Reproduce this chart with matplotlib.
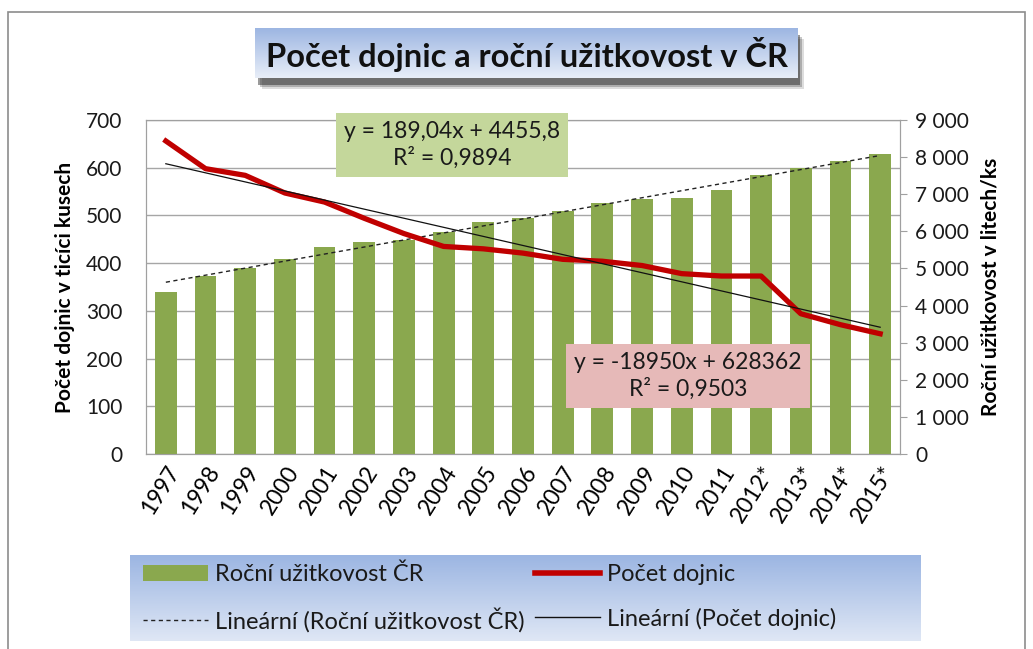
import numpy as np
import matplotlib
matplotlib.use("Agg")
import matplotlib.pyplot as plt
from matplotlib.patches import Rectangle
from matplotlib.lines import Line2D
from matplotlib.ticker import FuncFormatter

plt.rcParams['font.family'] = ['Lato', 'DejaVu Sans']

years = ['1997', '1998', '1999', '2000', '2001', '2002', '2003', '2004', '2005', '2006',
         '2007', '2008', '2009', '2010', '2011', '2012*', '2013*', '2014*', '2015*']
yield_per_cow = [4353, 4801, 5000, 5251, 5583, 5709, 5770, 5987, 6241, 6349,
                 6546, 6761, 6861, 6888, 7112, 7516, 7697, 7886, 8075]
cows_thousands = [656, 598, 584, 547, 528, 494, 462, 435, 430, 421,
                  408, 404, 395, 378, 373, 373, 294, 271, 252]
eq_yield = "y = 189,04x + 4455,8\nR² = 0,9894"
eq_cows = "y = -18950x + 628362\nR² = 0,9503"

W, H = 1033, 649
fig = plt.figure(figsize=(W / 100, H / 100), dpi=100)

def fx(px):
    return px / W

def fy(py):
    return 1 - py / H

# outer chart frame
fig.patches.append(Rectangle((fx(8), fy(700)), fx(1025) - fx(8), fy(12) - fy(700),
                             transform=fig.transFigure, fill=False, ec='#8c8c8c', lw=1.2))

left, right, top, bottom = 146, 900, 120, 454
ax = fig.add_axes([fx(left), fy(bottom), fx(right) - fx(left), fy(top) - fy(bottom)])
x = np.arange(len(years))
ax.set_xlim(-0.5, len(years) - 0.5)
ax.set_ylim(0, 700)
ax.set_yticks(np.arange(0, 701, 100))
ax.yaxis.grid(True, color='#a6a6a6', lw=1.0)
ax.set_axisbelow(True)
ax.tick_params(axis='y', length=0, labelsize=15, pad=17, labelcolor='#1a1a1a')
ax.set_xticks(x)
ax.set_xticklabels(years, rotation=58, ha='right', rotation_mode='anchor', fontsize=16.5)
ax.tick_params(axis='x', length=0, pad=6)
for s in ax.spines.values():
    s.set_color('#a0a0a0')
ax.set_ylabel('Počet dojnic v ticíci kusech', fontsize=15, fontweight='bold', labelpad=8)

ax2 = ax.twinx()
ax2.set_ylim(0, 9000)
ax2.set_yticks(np.arange(0, 9001, 1000))
ax2.yaxis.set_major_formatter(FuncFormatter(lambda v, p: f"{int(v):,}".replace(',', ' ')))
ax2.tick_params(axis='y', length=5, color='#a0a0a0', labelsize=15, pad=6, labelcolor='#1a1a1a')
for s in ax2.spines.values():
    s.set_color('#a0a0a0')
ax2.bar(x, yield_per_cow, width=0.55, color='#8aa84e', zorder=2)
c1 = np.polyfit(x, yield_per_cow, 1)
ax2.plot(x, np.polyval(c1, x), color='#222222', lw=1.0, ls=(0, (3, 2.5)), zorder=3)
ax2.set_ylabel('Roční užitkovost v litech/ks', fontsize=15, fontweight='bold', labelpad=8)

ax3 = ax.twinx()
ax3.set_ylim(0, 700)
ax3.set_yticks([])
for s in ax3.spines.values():
    s.set_visible(False)
ax3.plot(x, cows_thousands, color='#c00000', lw=3.8, zorder=3)
c2 = np.polyfit(x, cows_thousands, 1)
ax3.plot(x, np.polyval(c2, x), color='#111111', lw=0.9, zorder=4)

# equation labels
fig.text(fx(452), fy(145), eq_yield, ha='center', va='center', fontsize=16.5, linespacing=1.25,
         color='#1a1a1a',
         bbox=dict(boxstyle='square,pad=0.35', fc='#c4d79b', ec='none'))
fig.text(fx(688), fy(376), eq_cows, ha='center', va='center', fontsize=16.5, linespacing=1.25,
         color='#1a1a1a',
         bbox=dict(boxstyle='square,pad=0.35', fc='#e6b9b8', ec='none'))

def gradient_axes(x0, y0, x1, y1, ctop, cbot, z=5):
    a = fig.add_axes([fx(x0), fy(y1), fx(x1) - fx(x0), fy(y0) - fy(y1)], zorder=z)
    ct = np.array(matplotlib.colors.to_rgb(ctop))
    cb = np.array(matplotlib.colors.to_rgb(cbot))
    t = np.linspace(0, 1, 100)[:, None]
    img = (ct[None, :] * (1 - t) + cb[None, :] * t)[:, None, :]
    a.imshow(img, aspect='auto', extent=(0, 1, 0, 1), interpolation='bilinear')
    a.set_xlim(0, 1)
    a.set_ylim(0, 1)
    a.axis('off')
    return a

# title with shadow
for i, al in enumerate([0.15, 0.25, 0.45]):
    off = 7 - 2 * i
    fig.patches.append(Rectangle((fx(258 + off - 3), fy(82 + off)), fx(800) - fx(258), fy(30) - fy(80),
                                 transform=fig.transFigure, fc='#202020', ec='none', alpha=al))
tax = gradient_axes(255, 28, 798, 78, '#9db6e2', '#e8eef8', z=6)
tax.text(0.5, 0.48, 'Počet dojnic a roční užitkovost v ČR', ha='center', va='center',
         fontsize=23.5, fontweight='bold', color='#111111')

# legend
lax = gradient_axes(130, 555, 921, 641, '#9bb5e2', '#dfe7f5', z=6)
handles = [Rectangle((0, 0), 1, 1, fc='#8aa84e', ec='none'),
           Line2D([], [], color='#222222', lw=1.0, ls=(0, (3, 2.5))),
           Line2D([], [], color='#c00000', lw=4),
           Line2D([], [], color='#111111', lw=1.0)]
labels = ['Roční užitkovost ČR', 'Lineární (Roční užitkovost ČR)', 'Počet dojnic', 'Lineární (Počet dojnic)']
lax.legend(handles, labels, ncol=2, loc='center left', bbox_to_anchor=(0.0, 0.5), frameon=False,
           fontsize=17, handlelength=2.75, handletextpad=0.3, columnspacing=0.45, labelspacing=0.95,
           borderaxespad=0.25, borderpad=0.3, labelcolor='#1a1a1a')

fig.savefig('out.png', dpi=100)
